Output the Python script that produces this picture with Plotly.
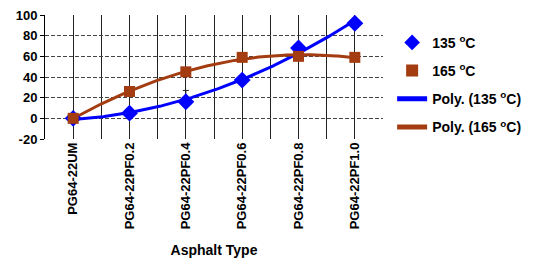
import numpy as np
import plotly.graph_objects as go

categories = ["PG64-22UM", "PG64-22PF0.2", "PG64-22PF0.4",
              "PG64-22PF0.6", "PG64-22PF0.8", "PG64-22PF1.0"]
temp135 = [0, 5, 16, 37, 68, 92]
temp165 = [0, 26, 45, 59, 60, 59]
err135_plus = [0, 0, 11, 0, 0, 0]
y_ticks = [-20, 0, 20, 40, 60, 80, 100]
y_tick_text = ["-20", "0", "20", "40", "60", "80", "100"]
y_grid = [0, 20, 40, 60, 80]

BLUE = "#0000FF"
BROWN = "#A33C10"
FONT = "Liberation Sans"

x = np.arange(len(categories))
xf = np.linspace(0, len(categories) - 1, 200)
fit135 = np.polyval(np.polyfit(x, temp135, 2), xf)
fit165 = np.polyval(np.polyfit(x, temp165, 2), xf)

fig = go.Figure()
fig.add_trace(go.Scatter(x=xf, y=fit135, mode="lines", name="Poly. (135 <sup>o</sup>C)",
                         line=dict(color=BLUE, width=3), legendrank=3, legendgroup="c"))
fig.add_trace(go.Scatter(x=xf, y=fit165, mode="lines", name="Poly. (165 <sup>o</sup>C)",
                         line=dict(color=BROWN, width=3), legendrank=4, legendgroup="d"))
fig.add_trace(go.Scatter(x=x, y=temp135, mode="markers", name="135 <sup>o</sup>C",
                         marker=dict(symbol="diamond", color=BLUE, size=13),
                         error_y=dict(type="data", array=err135_plus, arrayminus=[0]*6,
                                      color="#222", thickness=1, width=3),
                         legendrank=1, legendgroup="a"))
fig.add_trace(go.Scatter(x=x, y=temp165, mode="markers", name="165 <sup>o</sup>C",
                         marker=dict(symbol="square", color=BROWN, size=11),
                         legendrank=2, legendgroup="b"))

fig.update_layout(
    width=525, height=255,
    margin=dict(l=37, r=145, t=7, b=124),
    paper_bgcolor="white", plot_bgcolor="white",
    font=dict(family=FONT, size=13, color="black", weight="bold"),
    showlegend=True,
    legend=dict(x=1.027, y=0.905, xanchor="left", yanchor="top",
                font=dict(family=FONT, size=14, color="black", weight="bold"),
                tracegroupgap=7, itemsizing="constant", bgcolor="rgba(0,0,0,0)"),
    xaxis=dict(range=[-0.5, 5.5], tickmode="array", tickvals=list(x), ticktext=categories,
               tickangle=-90, showgrid=True, gridcolor="#222", gridwidth=1,
               zeroline=False, showline=False, ticks="", automargin=False,
               ticklabeloverflow="allow",
               tickfont=dict(family=FONT, size=13, weight="bold"),
               minor=dict(tickvals=[0.5, 1.5, 2.5, 3.5, 4.5], showgrid=True,
                          gridcolor="#222", gridwidth=1),
               title=dict(text="Asphalt Type", standoff=16,
                          font=dict(family=FONT, size=14, weight="bold"))),
    yaxis=dict(range=[-20, 100], tickmode="array", tickvals=y_ticks, ticktext=y_tick_text,
               showgrid=False, zeroline=False, showline=True, linecolor="black",
               linewidth=1, ticks="outside", ticklen=4, tickcolor="black", automargin=False,
               ticklabeloverflow="allow",
               tickfont=dict(family=FONT, size=13, weight="bold"),
               minor=dict(tickvals=y_grid, showgrid=True, gridcolor="#444",
                          gridwidth=1, griddash="4px,2px")),
)

fig.write_html("out.html")
